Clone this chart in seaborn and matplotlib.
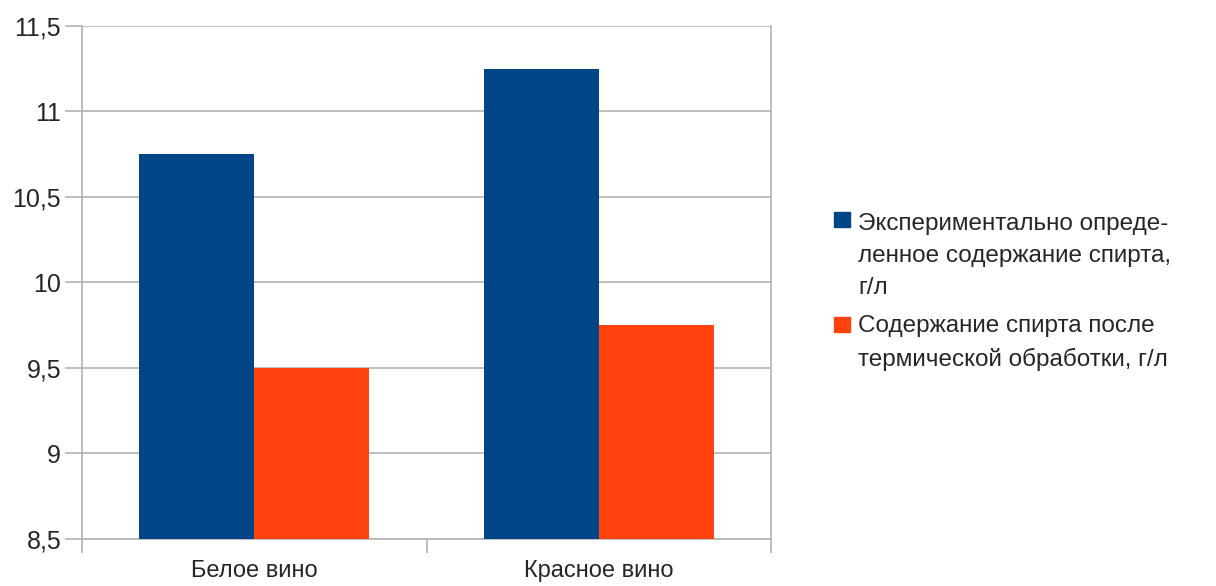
import pandas as pd
import matplotlib
matplotlib.use('Agg')
import matplotlib.pyplot as plt
from matplotlib.patches import Rectangle
from matplotlib.ticker import FixedLocator, FuncFormatter
import seaborn as sns

# Chart data
wines = ['Белое вино', 'Красное вино']
series = ['Экспериментально опреде-\nленное содержание спирта,\nг/л',
          'Содержание спирта после\nтермической обработки, г/л']
experimental = [10.75, 11.25]
after_heat = [9.5, 9.75]
y_ticks = [8.5, 9, 9.5, 10, 10.5, 11, 11.5]
colors = ['#004586', '#ff420e']

df = pd.DataFrame({
    'wine': wines * 2,
    'series': [series[0]] * len(wines) + [series[1]] * len(wines),
    'value': experimental + after_heat,
})

sns.set_style('white')
plt.rcParams['font.family'] = ['Liberation Sans', 'DejaVu Sans']

W, H = 1216, 586
fig = plt.figure(figsize=(W / 100, H / 100), dpi=100)
ax = fig.add_axes([82 / W, 1 - 539 / H, (771 - 82) / W, (539 - 26) / H])

sns.barplot(data=df, x='wine', y='value', hue='series', palette=colors,
            width=0.667, saturation=1, linewidth=0, ax=ax, legend=False, zorder=3)

ax.set_ylim(8.5, 11.5)
ax.set_xlim(-0.5, 1.5)
ax.yaxis.set_major_locator(FixedLocator(y_ticks))
ax.yaxis.set_major_formatter(FuncFormatter(lambda v, p: f'{v:g}'.replace('.', ',')))
ax.grid(axis='y', color='#b3b3b3', linewidth=1.2, zorder=0)
ax.set_axisbelow(True)

for s in ax.spines.values():
    s.set_color('#b3b3b3')
    s.set_linewidth(1.2)
ax.spines['top'].set_visible(False)

ax.tick_params(axis='y', left=True, length=12, width=1.2, color='#b3b3b3',
               labelsize=18, pad=3)
ax.tick_params(axis='x', which='major', bottom=False, length=0, labelsize=17, pad=15)
ax.set_xticks([-0.5, 0.5, 1.5], minor=True)
ax.tick_params(axis='x', which='minor', bottom=True, length=10, width=1.2,
               color='#b3b3b3', direction='out')
ax.set_xlabel('')
ax.set_ylabel('')

# legend drawn by hand: squares aligned with the first line of each entry
first_baselines = [228, 333]
line_step = 33
for label, c, base in zip(series, colors, first_baselines):
    n_lines = label.count('\n') + 1
    fig.patches.append(Rectangle((834 / W, 1 - (base - 1) / H), 16 / W, 15 / H,
                                 transform=fig.transFigure, color=c))
    last_base = base + (n_lines - 1) * line_step
    fig.text(858 / W, 1 - last_base / H, label, fontsize=17.5,
             va='baseline', ha='left', linespacing=1.6)

plt.savefig('out.png', dpi=100)
